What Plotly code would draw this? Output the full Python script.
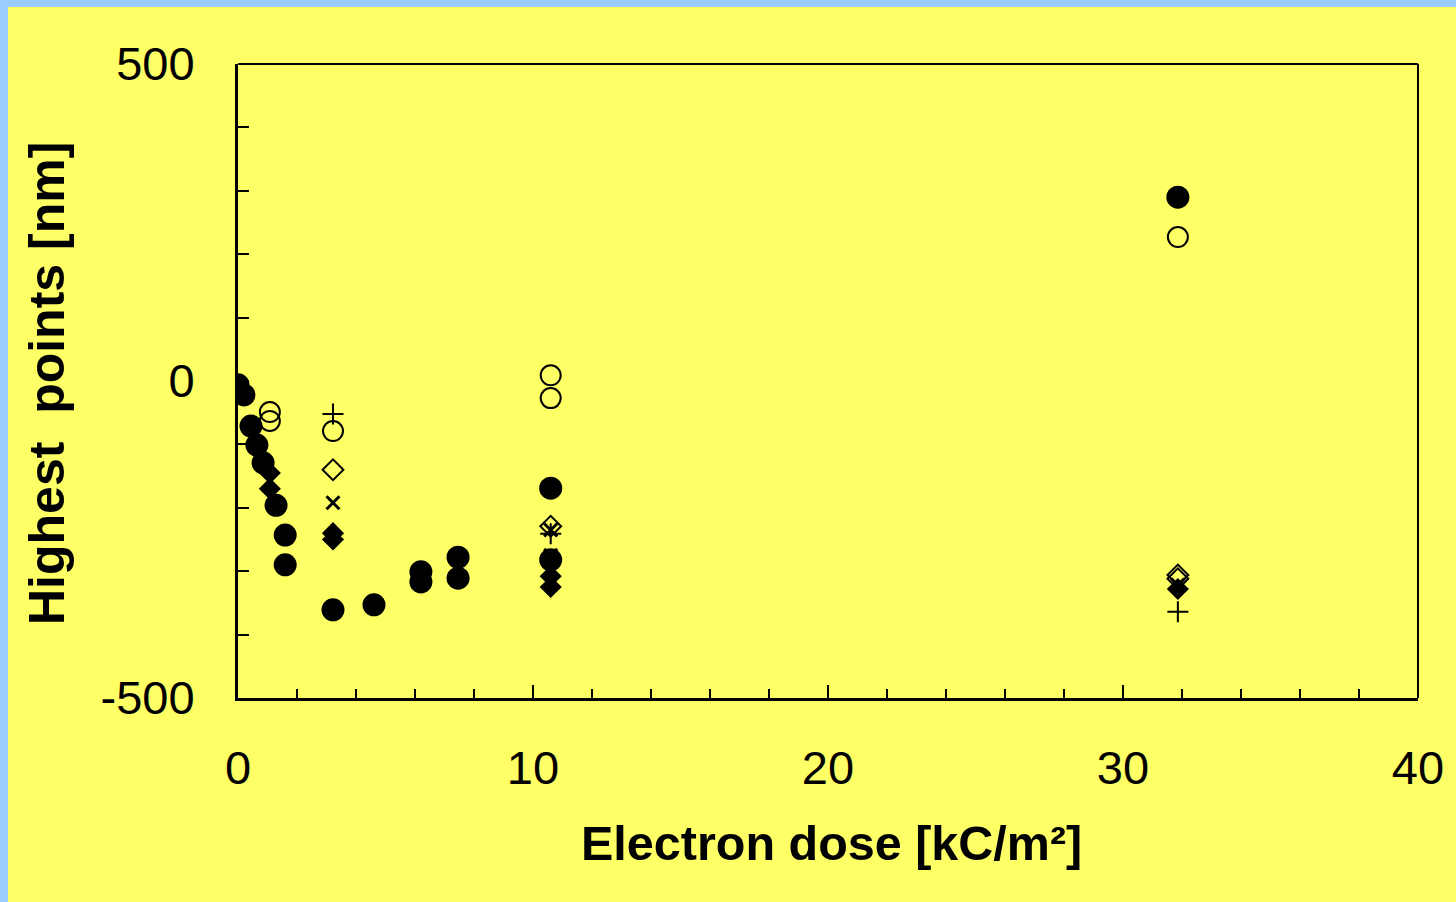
import plotly.graph_objects as go

# ---- data ----
filled_circle_x = [0, 0.2, 0.44, 0.64, 0.85, 1.29, 1.6, 1.6, 3.22, 4.61, 6.2, 6.2, 7.46, 7.46, 10.6, 10.6, 31.86]
filled_circle_y = [-6, -22, -71, -101, -129, -196, -243, -290, -361, -353, -301, -317, -278, -311, -169, -282, 290]

open_circle_x = [1.08, 1.08, 3.22, 10.6, 10.6, 31.86]
open_circle_y = [-49, -63, -79, 9, -27, 227]

filled_diamond_x = [1.08, 1.08, 3.22, 3.22, 10.6, 10.6, 31.86]
filled_diamond_y = [-145, -170, -240, -250, -308, -325, -328]

open_diamond_x = [3.22, 10.6, 31.86, 31.86]
open_diamond_y = [-140, -229, -306, -312]

cross_x = [3.22, 10.6, 10.6, 31.86]
cross_y = [-192, -235, -275, -322]

plus_x = [3.22, 10.6, 31.86]
plus_y = [-52, -241, -364]

x_ticks = [0, 10, 20, 30, 40]
x_ticklabels = ["0", "10", "20", "30", "40"]
y_ticks = [-500, 0, 500]
y_ticklabels = ["-500", "0", "500"]

x_title = "Electron dose [kC/m²]"
y_title = "Highest  points [nm]"

# ---- layout geometry ----
W, H = 1456, 902
L, R, T, B = 238, 38, 64, 204
pw, ph = W - L - R, H - T - B

def px_to_paper_x(px):
    return (px - L) / pw

def px_to_paper_y(py):
    return (H - B - py) / ph

YELLOW = "#FFFF66"
BLUE = "#99CCFF"
FONT = "Liberation Sans, Arial, sans-serif"

fig = go.Figure()

fig.add_trace(go.Scatter(x=open_diamond_x, y=open_diamond_y, mode="markers",
                         marker=dict(symbol="diamond-open", size=16, color="black",
                                     line=dict(width=2, color="black"))))
fig.add_trace(go.Scatter(x=cross_x, y=cross_y, mode="markers",
                         marker=dict(symbol="x-thin", size=13, color="black",
                                     line=dict(width=3, color="black"))))
fig.add_trace(go.Scatter(x=plus_x, y=plus_y, mode="markers",
                         marker=dict(symbol="cross-thin", size=15, color="black",
                                     line=dict(width=2, color="black"))))
fig.add_trace(go.Scatter(x=open_circle_x, y=open_circle_y, mode="markers",
                         marker=dict(symbol="circle-open", size=20, color="black",
                                     line=dict(width=2, color="black"))))
fig.add_trace(go.Scatter(x=filled_diamond_x, y=filled_diamond_y, mode="markers",
                         marker=dict(symbol="diamond", size=17, color="black",
                                     line=dict(width=0))))
fig.add_trace(go.Scatter(x=filled_circle_x, y=filled_circle_y, mode="markers",
                         marker=dict(symbol="circle", size=23, color="black",
                                     line=dict(width=0))))

fig.update_layout(
    width=W, height=H,
    margin=dict(l=L, r=R, t=T, b=B),
    paper_bgcolor=YELLOW, plot_bgcolor=YELLOW,
    showlegend=False,
    font=dict(family=FONT, color="black", size=47),
    xaxis=dict(range=[0, 40], tickvals=x_ticks, ticktext=x_ticklabels, ticks="inside",
               ticklen=13, tickwidth=2,
               tickcolor="black", showgrid=False, zeroline=False, showline=True,
               linecolor="black", linewidth=3, ticklabelstandoff=27,
               tickfont=dict(size=47, family=FONT),
               minor=dict(dtick=2, ticks="inside", ticklen=9, tickwidth=2, tickcolor="black",
                          showgrid=False)),
    yaxis=dict(range=[-500, 500], tickvals=y_ticks, ticktext=y_ticklabels, ticks="inside",
               ticklen=11, tickwidth=2,
               tickcolor="black", showgrid=False, zeroline=False, showline=True,
               linecolor="black", linewidth=3, ticklabelstandoff=31,
               tickfont=dict(size=47, family=FONT),
               minor=dict(dtick=100, ticks="inside", ticklen=11, tickwidth=2, tickcolor="black",
                          showgrid=False)),
    shapes=[
        # top and right frame lines
        dict(type="line", xref="paper", yref="paper", x0=0, x1=1, y0=1, y1=1,
             line=dict(color="black", width=2)),
        dict(type="line", xref="paper", yref="paper", x0=1, x1=1, y0=0, y1=1,
             line=dict(color="black", width=2)),
        # light blue border strips (left and top)
        dict(type="rect", xref="paper", yref="paper", layer="below",
             x0=px_to_paper_x(0), x1=px_to_paper_x(8), y0=px_to_paper_y(H), y1=px_to_paper_y(0),
             fillcolor=BLUE, line=dict(width=0)),
        dict(type="rect", xref="paper", yref="paper", layer="below",
             x0=px_to_paper_x(0), x1=px_to_paper_x(W), y0=px_to_paper_y(7), y1=px_to_paper_y(0),
             fillcolor=BLUE, line=dict(width=0)),
    ],
    annotations=[
        dict(text="<b>" + x_title + "</b>", xref="paper", yref="paper",
             x=px_to_paper_x(832), y=px_to_paper_y(843), xanchor="center", yanchor="middle",
             showarrow=False, font=dict(size=48.5, family=FONT, color="black")),
        dict(text="<b>" + y_title + "</b>", xref="paper", yref="paper", textangle=-90,
             x=px_to_paper_x(47), y=px_to_paper_y(384), xanchor="center", yanchor="middle",
             showarrow=False, font=dict(size=50, family=FONT, color="black")),
    ],
)

fig.write_html("out.html", config={"displayModeBar": False},
               post_script="document.body.style.margin='0';document.body.style.overflow='hidden';")
